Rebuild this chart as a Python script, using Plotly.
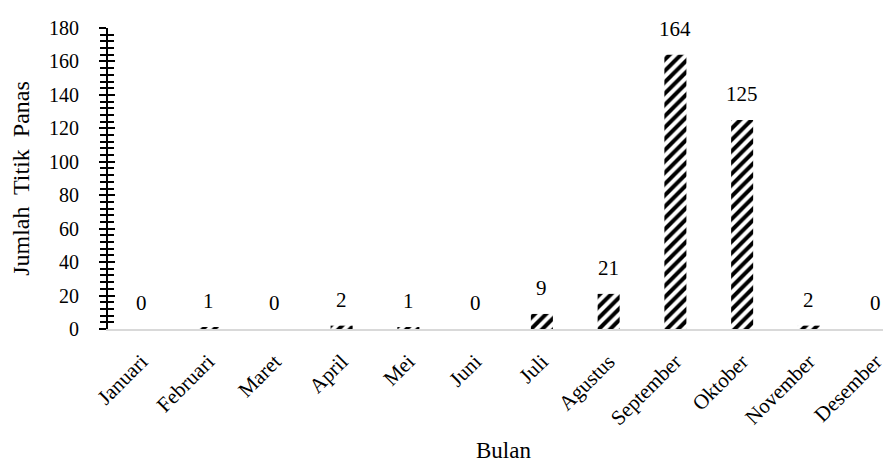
import plotly.graph_objects as go

months = ["Januari", "Februari", "Maret", "April", "Mei", "Juni", "Juli",
          "Agustus", "September", "Oktober", "November", "Desember"]
hotspots = [0, 1, 0, 2, 1, 0, 9, 21, 164, 125, 2, 0]

FONT = "Liberation Serif"

fig = go.Figure()
fig.add_trace(go.Bar(
    x=months, y=hotspots,
    width=0.33,
    marker=dict(color="white", line=dict(width=0),
                pattern=dict(shape="/", fgcolor="black", bgcolor="white",
                             fgopacity=1, size=8, solidity=0.5, fillmode="replace")),
    showlegend=False,
    hoverinfo="x+y",
))
# invisible trace on secondary axis to get inside ticks (ticks crossing the axis)
fig.add_trace(go.Scatter(x=months, y=hotspots, yaxis="y2", mode="markers",
                         marker=dict(opacity=0), hoverinfo="skip", showlegend=False))

for m, v in zip(months, hotspots):
    fig.add_annotation(x=m, y=v, text=str(v), showarrow=False,
                       yanchor="bottom", yshift=12,
                       font=dict(family=FONT, size=21, color="black"))

fig.update_layout(
    width=891, height=464,
    margin=dict(l=100, r=0, t=20, b=143),
    plot_bgcolor="white", paper_bgcolor="white",
    font=dict(family=FONT, size=20, color="black"),
    xaxis=dict(
        type="category", range=[-0.5, 11.35], tickangle=-45, showgrid=False,
        showline=True, linecolor="#d9d9d9", linewidth=2,
        ticks="", tickfont=dict(family=FONT, size=21), automargin=False,
        ticklabelstandoff=10,
        title=dict(text="Bulan", font=dict(family=FONT, size=23), standoff=13),
    ),
    yaxis=dict(
        range=[0, 180], tickmode="linear", tick0=0, dtick=20,
        showgrid=False, zeroline=False, automargin=False,
        showline=True, linecolor="black", linewidth=2,
        ticks="outside", ticklen=7, tickwidth=2, tickcolor="black",
        minor=dict(ticks="outside", ticklen=6, tickwidth=1.5, dtick=4, tickcolor="black"),
        tickfont=dict(family=FONT, size=20),
        ticklabelstandoff=16,
        title=dict(text="Jumlah  Titik  Panas", font=dict(family=FONT, size=24), standoff=16),
    ),
    yaxis2=dict(
        range=[0, 180], overlaying="y", side="left", anchor="x",
        tickmode="linear", tick0=0, dtick=20, showgrid=False, zeroline=False,
        showticklabels=False, ticks="inside", ticklen=7, tickwidth=2, tickcolor="black",
        minor=dict(ticks="inside", ticklen=6, tickwidth=1.5, dtick=4, tickcolor="black"),
        showline=False,
    ),
)

fig.write_html("out.html")
